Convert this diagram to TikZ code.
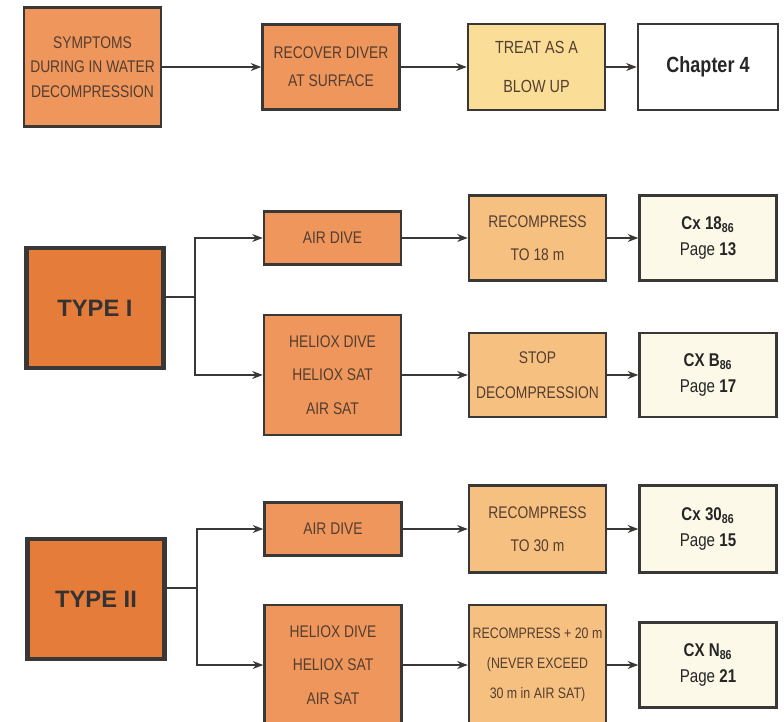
\documentclass[tikz,border=0pt]{standalone}
\usepackage{fontspec}
\setmainfont{Liberation Sans}[FakeStretch=0.82]
\newfontfamily\widefont{Liberation Sans}
\usetikzlibrary{arrows.meta, positioning, calc}
\definecolor{boxorange}{RGB}{238,150,92}
\definecolor{typeorange}{RGB}{230,124,58}
\definecolor{lightorange}{RGB}{246,192,128}
\definecolor{paleyellow}{RGB}{250,222,152}
\definecolor{cream}{RGB}{252,249,232}
\definecolor{inkbrown}{RGB}{84,62,48}
\definecolor{edgegray}{RGB}{58,56,54}

\begin{document}
\begin{tikzpicture}[
    x=0.02cm, y=-0.02cm,
    base/.style={rectangle, draw=edgegray, line width=1.4pt,
                 align=center, inner sep=2pt, text=inkbrown,
                 minimum width=2.74cm},
    orangebox/.style={base, fill=boxorange, font={\fontsize{9.6}{19}\selectfont}},
    typebox/.style={base, fill=typeorange, line width=2.8pt, text=black!80,
                    minimum width=2.74cm, minimum height=2.4cm,
                    font={\widefont\bfseries\fontsize{13.5}{15}\selectfont}},
    recbox/.style={base, fill=lightorange, minimum height=1.7cm,
                   font={\fontsize{9.6}{19}\selectfont}},
    refbox/.style={base, fill=cream, minimum height=1.7cm, text=black!85,
                   font={\fontsize{10.5}{15}\selectfont}},
    arr/.style={-{Stealth[length=6pt,width=4.5pt]}, line width=1.1pt, draw=edgegray},
]
\clip (0,0) rectangle (784,722);

% top row
\node[orangebox, minimum height=2.38cm, font={\fontsize{9.6}{14}\selectfont}]
      (sym)  at (92.5,67)  {SYMPTOMS\\DURING IN WATER\\DECOMPRESSION};
\node[orangebox, minimum height=1.7cm, font={\fontsize{9.6}{16}\selectfont}]
      (rec)  at (331,67)   {RECOVER DIVER\\AT SURFACE};
\node[base, fill=paleyellow, minimum height=1.72cm, font={\fontsize{10}{22}\selectfont}]
      (blow) at (536.5,67) {TREAT AS A\\BLOW UP};
\node[base, fill=white, minimum height=1.72cm, text=black!85,
      minimum width=2.8cm, font={\bfseries\fontsize{12.5}{14}\selectfont}]
      (chap) at (708,67)   {Chapter 4};

% type I
\node[typebox] (t1) at (95,308) {TYPE I};
\node[orangebox, minimum height=1.06cm] (air1) at (332.5,238) {AIR DIVE};
\node[orangebox, minimum height=2.4cm]  (hel1) at (332.5,375) {HELIOX DIVE\\HELIOX SAT\\AIR SAT};
\node[recbox] (r18)  at (537.5,238) {RECOMPRESS\\TO 18 m};
\node[refbox] (cx18) at (708,238)   {\textbf{Cx 18\textsubscript{86}}\\Page \textbf{13}};
\node[recbox, minimum height=1.68cm, font={\fontsize{9.6}{20}\selectfont}]
      (stop) at (537.5,375) {STOP\\DECOMPRESSION};
\node[refbox, minimum height=1.68cm] (cxb) at (708,375) {\textbf{CX B\textsubscript{86}}\\Page \textbf{17}};

% type II
\node[typebox] (t2) at (96,599) {TYPE II};
\node[orangebox, minimum height=1.06cm] (air2) at (333,529) {AIR DIVE};
\node[orangebox, minimum height=2.4cm]  (hel2) at (333,665) {HELIOX DIVE\\HELIOX SAT\\AIR SAT};
\node[recbox, minimum height=1.74cm] (r30) at (537.5,529) {RECOMPRESS\\TO 30 m};
\node[refbox, minimum height=1.74cm] (cx30) at (708,529) {\textbf{Cx 30\textsubscript{86}}\\Page \textbf{15}};
\node[recbox, minimum height=2.4cm, font={\fontsize{8.6}{17}\selectfont}]
      (r20) at (537.5,665) {RECOMPRESS + 20 m\\(NEVER EXCEED\\30 m in AIR SAT)};
\node[refbox, minimum height=1.7cm] (cxn) at (708,665) {\textbf{CX N\textsubscript{86}}\\Page \textbf{21}};

\coordinate (br1) at (195,297);
\coordinate (br2) at (197,588);

\draw[arr] (sym) -- (rec);
\draw[arr] (rec) -- (blow);
\draw[arr] (blow) -- (chap);

\draw[line width=1.1pt, draw=edgegray] (t1.east |- br1) -- (br1);
\draw[arr] (br1) |- (air1);
\draw[arr] (br1) |- (hel1);
\draw[arr] (air1) -- (r18);
\draw[arr] (r18) -- (cx18);
\draw[arr] (hel1) -- (stop);
\draw[arr] (stop) -- (cxb);

\draw[line width=1.1pt, draw=edgegray] (t2.east |- br2) -- (br2);
\draw[arr] (br2) |- (air2);
\draw[arr] (br2) |- (hel2);
\draw[arr] (air2) -- (r30);
\draw[arr] (r30) -- (cx30);
\draw[arr] (hel2) -- (r20);
\draw[arr] (r20) -- (cxn);
\end{tikzpicture}
\end{document}
